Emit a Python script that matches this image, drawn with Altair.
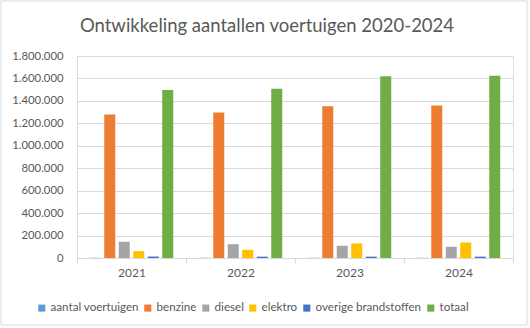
import altair as alt
import pandas as pd

years = ["2021", "2022", "2023", "2024"]
series = ["aantal voertuigen", "benzine", "diesel", "elektro", "overige brandstoffen", "totaal"]
aantal = [2021, 2022, 2023, 2024]
benzine = [1278000, 1297000, 1353000, 1360000]
diesel = [145000, 123000, 109000, 100000]
elektro = [61000, 73000, 130000, 138000]
overige = [13000, 12000, 12000, 12000]
totaal = [1496000, 1508000, 1619000, 1624000]
colors = ["#5B9BD5", "#ED7D31", "#A5A5A5", "#FFC000", "#4472C4", "#70AD47"]

rows = []
for vals, name in zip([aantal, benzine, diesel, elektro, overige, totaal], series):
    for y, v in zip(years, vals):
        rows.append({"jaar": y, "reeks": name, "waarde": v})
df = pd.DataFrame(rows)

FONT = "Lato"
TXT = "#595959"
W, H = 436, 202

bars = alt.Chart(df).mark_bar().encode(
    x=alt.X("jaar:N", title=None, sort=years,
            scale=alt.Scale(paddingInner=0, paddingOuter=0),
            axis=alt.Axis(labelAngle=0, labelFont=FONT, labelFontSize=12, labelColor=TXT,
                          domainColor="#d9d9d9", tickColor="#d9d9d9", tickSize=5,
                          tickBand="extent", labelPadding=4, grid=False)),
    xOffset=alt.XOffset("reeks:N", sort=series,
                        scale=alt.Scale(paddingInner=0.24, paddingOuter=0.88)),
    y=alt.Y("waarde:Q", title=None,
            scale=alt.Scale(domain=[0, 1800000], nice=False),
            axis=alt.Axis(values=list(range(0, 1800001, 200000)),
                          labelExpr="replace(replace(format(datum.value, ','), ',', '.'), ',', '.')",
                          labelFont=FONT, labelFontSize=11.3, labelColor=TXT,
                          domain=False, ticks=False, gridColor="#d9d9d9", labelPadding=14)),
    color=alt.Color("reeks:N", sort=series,
                    scale=alt.Scale(domain=series, range=colors),
                    legend=alt.Legend(title=None, orient="none", direction="horizontal",
                                      columns=6, legendX=-41, legendY=246,
                                      symbolType="square", symbolSize=50, symbolStrokeWidth=0,
                                      labelFont=FONT, labelFontSize=11.6, labelColor=TXT,
                                      labelOffset=3, columnPadding=3)),
)

border = alt.Chart(pd.DataFrame({"a": [0]})).mark_rect(
    fill=None, stroke="#d9d9d9", strokeWidth=1
).encode(
    x=alt.value(-76), x2=alt.value(W + 14), y=alt.value(-55), y2=alt.value(H + 67)
)

chart = alt.layer(border, bars).properties(
    width=W, height=H,
    padding={"left": 77, "top": 56, "right": 17, "bottom": 70},
    autosize=alt.AutoSizeParams(type="none"),
    title=alt.Title("Ontwikkeling aantallen voertuigen 2020-2024", font=FONT, fontSize=18.5,
                    fontWeight="normal", color=TXT, anchor="middle", dx=-28, offset=-35),
).configure_view(stroke=None).configure(background="white")

chart.save("out.html", embed_options={"renderer": "svg", "actions": False})
